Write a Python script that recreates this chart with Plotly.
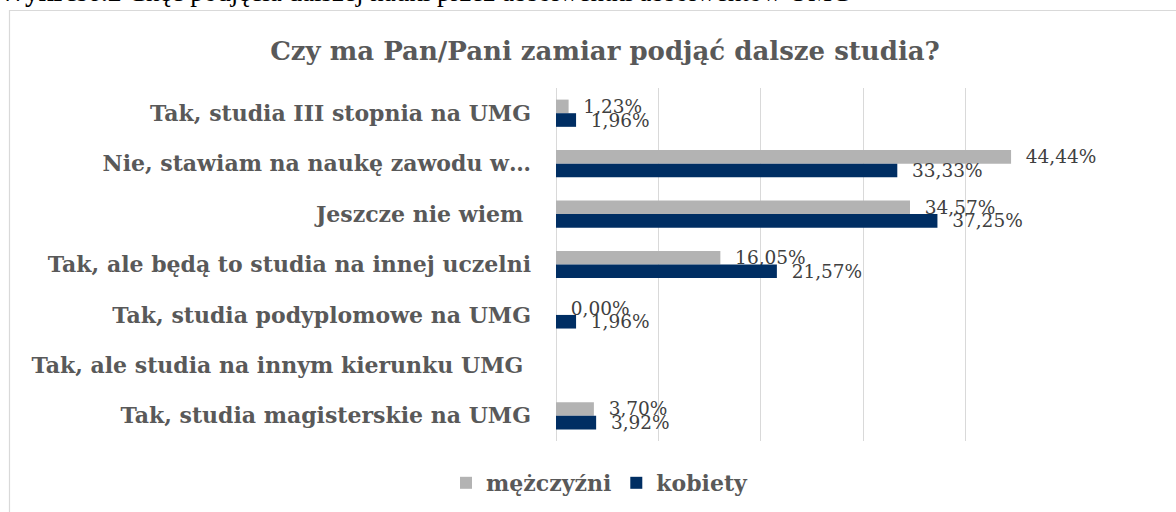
import plotly.graph_objects as go

categories = [
    "Tak, studia III stopnia na UMG",
    "Nie, stawiam na naukę zawodu w…",
    "Jeszcze nie wiem\u00a0",
    "Tak, ale będą to studia na innej uczelni",
    "Tak, studia podyplomowe na UMG",
    "Tak, ale studia na innym kierunku UMG\u00a0",
    "Tak, studia magisterskie na UMG",
]
men = [1.23, 44.44, 34.57, 16.05, 0.00, None, 3.70]
women = [1.96, 33.33, 37.25, 21.57, 1.96, None, 3.92]
series_names = ["mężczyźni", "kobiety"]
colors = ["#B3B3B3", "#002E63"]

W, H = 1176, 512
L, R, T, B = 556, 108, 88, 71
pw, ph = W - L - R, H - T - B

def px_x(p):
    return (p - L) / pw

def px_y(p):
    return (H - B - p) / ph

fig = go.Figure()
for name, vals, col in zip(series_names, [men, women], colors):
    fig.add_trace(go.Bar(
        y=categories, x=vals, name=name, orientation="h",
        marker=dict(color=col, line=dict(width=0)),
        texttemplate="\u00a0\u00a0%{x:.2f}%", textposition="outside",
        constraintext="none", cliponaxis=False,
        textfont=dict(family="DejaVu Serif", size=18.5, color="#404040"),
        hoverinfo="skip",
    ))

fig.update_layout(
    width=W, height=H,
    margin=dict(l=L, r=R, t=T, b=B, pad=0, autoexpand=False),
    paper_bgcolor="white", plot_bgcolor="white",
    barmode="group", bargap=0.46, bargroupgap=0,
    separators=", ",
    title=dict(
        text="<b>Czy ma Pan/Pani zamiar podjąć dalsze studia?</b>",
        x=605 / W, xanchor="center", y=1 - 51 / H, yanchor="middle",
        font=dict(family="DejaVu Serif", size=26, color="#595959"),
    ),
    xaxis=dict(range=[0, 50], dtick=10, showticklabels=False,
               showgrid=True, gridcolor="#D9D9D9", gridwidth=1,
               zeroline=True, zerolinecolor="#D9D9D9", zerolinewidth=1,
               showline=False, fixedrange=True),
    yaxis=dict(autorange="reversed", showgrid=False, showline=False,
               ticks="", ticklabelstandoff=24,
               tickfont=dict(family="DejaVu Serif", size=22, color="#595959",
                             weight="bold"),
               fixedrange=True),
    legend=dict(orientation="h", x=px_x(600), xanchor="center",
                y=px_y(483), yanchor="middle",
                font=dict(family="DejaVu Serif", size=22, color="#595959",
                          weight="bold"),
                itemwidth=30, traceorder="normal"),
    showlegend=True,
    shapes=[dict(type="rect", xref="paper", yref="paper",
                 x0=px_x(9.5), x1=px_x(1190), y0=px_y(525), y1=px_y(10.5),
                 line=dict(color="#D9D9D9", width=1.2), fillcolor="rgba(0,0,0,0)",
                 layer="below")],
    annotations=[dict(
        text="<b>Wykres6.2</b> Chęć podjęcia dalszej nauki przez absolwentki absolwentów UMG",
        xref="paper", yref="paper", x=px_x(-3), y=px_y(9), xanchor="left",
        yanchor="bottom", showarrow=False,
        font=dict(family="Liberation Serif", size=27, color="#000000"),
    )],
)

fig.write_html("out.html", config={"displayModeBar": False},
               post_script="document.body.style.margin='0';")
